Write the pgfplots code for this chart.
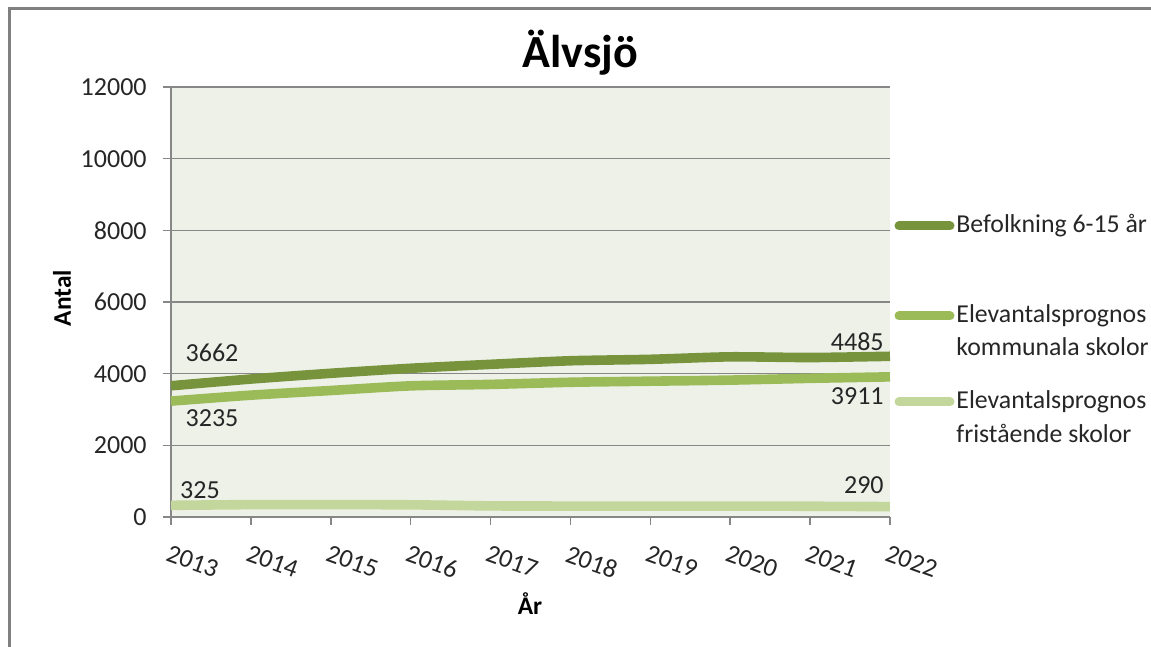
\documentclass[border=0pt]{standalone}
\usepackage{pgfplots}
\pgfplotsset{compat=1.18}
\usepackage{fontspec}
\setmainfont{Carlito}
\definecolor{bef}{HTML}{77933C}
\definecolor{kom}{HTML}{9BBB59}
\definecolor{fri}{HTML}{C3D69B}
\definecolor{bg}{HTML}{EEF1E8}
\definecolor{grd}{HTML}{878787}
\definecolor{frm}{HTML}{808080}
\begin{document}
\begin{tikzpicture}
\useasboundingbox (0,0) rectangle (575.5pt,323.5pt);
\draw[frm, line width=1.5pt] (4.5pt,-3pt) -- (4.5pt,319pt) -- (580pt,319pt);
\begin{axis}[
  at={(85.5pt,65pt)}, anchor=origin,
  scale only axis, width=359.5pt, height=215pt,
  xmin=2013, xmax=2022, ymin=0, ymax=12000,
  xtick={2013,...,2022}, ytick={0,2000,...,12000},
  scaled y ticks=false, scaled x ticks=false,
  axis x line*=bottom, axis y line*=left,
  axis line style={grd, line width=0.75pt, -},
  axis background/.style={fill=bg},
  ymajorgrids, grid style={grd, line width=0.75pt},
  tick align=outside, major tick length=4pt,
  tick style={grd, line width=0.75pt},
  /pgf/number format/1000 sep={},
  /pgf/number format/assume math mode=true,
  every tick label/.append style={font=\fontsize{13}{15}\selectfont, text=black!85},
  yticklabel style={anchor=east, inner sep=0pt, xshift=-8pt},
  xticklabel style={rotate=-20, anchor=north west, inner sep=0pt, xshift=3pt, yshift=-9pt},
  clip=false,
]
\addplot[bef, line width=4.8pt, smooth, tension=0.4] coordinates {
(2013,3662) (2014,3850) (2015,4010) (2016,4150) (2017,4260) (2018,4360) (2019,4400) (2020,4470) (2021,4450) (2022,4485)};
\addplot[kom, line width=4.8pt, smooth, tension=0.4] coordinates {
(2013,3235) (2014,3400) (2015,3530) (2016,3660) (2017,3700) (2018,3760) (2019,3790) (2020,3820) (2021,3870) (2022,3911)};
\addplot[fri, line width=4.8pt, smooth, tension=0.4] coordinates {
(2013,325) (2014,345) (2015,345) (2016,340) (2017,310) (2018,305) (2019,305) (2020,305) (2021,300) (2022,290)};
\end{axis}
\begin{scope}[x=0.5pt,y=0.5pt]
% title and axis labels
\node[font=\fontsize{23}{27}\selectfont\bfseries] at (580,594) {Älvsjö};
\node[font=\fontsize{12.7}{15}\selectfont\bfseries, rotate=90] at (62,349) {Antal};
\node[font=\fontsize{12.7}{15}\selectfont\bfseries] at (530,43) {År};
% data labels
\begin{scope}[every node/.style={font=\fontsize{13}{15}\selectfont, text=black!85, inner sep=0pt}]
\node at (212,294) {3662};
\node at (212,229) {3235};
\node at (200,157) {325};
\node[anchor=east] at (884,305) {4485};
\node[anchor=east] at (884,251) {3911};
\node[anchor=east] at (884,162) {290};
\end{scope}
% legend
\begin{scope}[every node/.style={font=\fontsize{12.9}{15}\selectfont, text=black!85, inner sep=0pt, anchor=west}]
\draw[bef, line width=4.5pt, line cap=round] (899,421) -- (950,421);
\node at (956,421) {Befolkning 6-15 år};
\draw[kom, line width=4.5pt, line cap=round] (899,331) -- (950,331);
\node at (956,331) {Elevantalsprognos};
\node at (956,300) {kommunala skolor};
\draw[fri, line width=4.5pt, line cap=round] (899,245) -- (950,245);
\node at (956,245) {Elevantalsprognos};
\node at (956,214) {fristående skolor};
\end{scope}
\end{scope}
\end{tikzpicture}
\end{document}
